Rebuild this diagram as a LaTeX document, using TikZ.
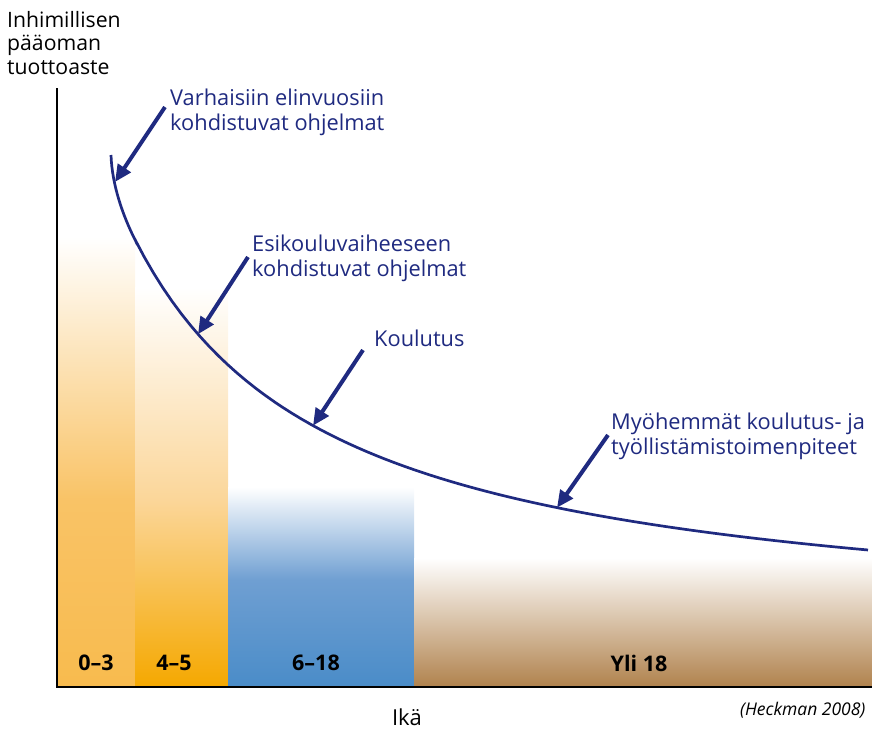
\documentclass[tikz,border=0pt]{standalone}
\usepackage{fontspec}
\setmainfont{Open Sans}
\usepackage{tikz}
\usetikzlibrary{arrows.meta}

\definecolor{curveblue}{RGB}{31,42,128}
\definecolor{orangeL}{RGB}{248,187,78}
\definecolor{orangeM}{RGB}{249,195,102}
\definecolor{orangeP}{RGB}{251,214,153}
\definecolor{orangeD}{RGB}{245,168,0}
\definecolor{schoolblueM}{RGB}{111,159,210}
\definecolor{schoolblue}{RGB}{74,140,200}
\definecolor{adultbrown}{RGB}{176,130,77}

\begin{document}
\begin{tikzpicture}[
    x=1pt, y=-1pt,
    declare function={
      yield(\t) = 634.7-790/(0.01*(\t+65));
    },
    lbl/.style={text=curveblue, font=\fontsize{21.8}{24.5}\selectfont,
      align=left, inner sep=0pt, anchor=north west},
    pointer/.style={curveblue, line width=4pt,
      -{Triangle[length=17pt,width=15pt]}},
    agelbl/.style={font=\fontsize{21.5}{24}\selectfont\bfseries, inner sep=0pt}]

    \useasboundingbox (0, 0) rectangle (872, 732);

    % age bars
    \shade [top color=white, bottom color=orangeM] (57, 237) rectangle (135, 500);
    \shade [top color=orangeM, bottom color=orangeL] (57, 500) rectangle (135, 687);
    \shade [top color=white, bottom color=orangeP] (135, 287) rectangle (228, 500);
    \shade [top color=orangeP, bottom color=orangeD] (135, 500) rectangle (228, 687);
    \shade [top color=white, bottom color=schoolblueM] (228, 487) rectangle (414, 580);
    \shade [top color=schoolblueM, bottom color=schoolblue] (228, 580) rectangle (414, 687);
    \shade [top color=white, bottom color=adultbrown] (414, 558) rectangle (872, 687);

    \node [agelbl] (age03) at (96, 663) {0--3};
    \node [agelbl] (age45) at (174, 663) {4--5};
    \node [agelbl] (age618) at (316, 663) {6--18};
    \node [agelbl] (age18) at (639, 663) {Yli 18};

    % axes
    \coordinate (origin) at (57, 687);
    \coordinate (ytop) at (57, 88);
    \coordinate (xend) at (872, 687);
    \draw [line width=1.5pt] (ytop) -- (origin) -- (xend);

    \node [anchor=north west, align=left, inner sep=0pt,
      font=\fontsize{21.2}{23.5}\selectfont] (ylabel) at (7, 11)
      {Inhimillisen\\pääoman\\tuottoaste};
    \node [anchor=base, inner sep=0pt, font=\fontsize{22}{24}\selectfont]
      (xlabel) at (407, 725) {Ikä};
    \node [anchor=east, font=\fontsize{17.5}{20}\selectfont\itshape]
      (source) at (869, 710) {(Heckman 2008)};

    % return curve
    \draw [curveblue, line width=2.7pt, variable=\t, domain=135:868, samples=80]
    (111, 155) .. controls (112, 185) and (123, 216) .. (135, 239.7)
    -- plot (\t, {yield(\t)});

    % programme labels
    \node [lbl] (early) at (170, 89)
      {Varhaisiin elinvuosiin\\kohdistuvat ohjelmat};
    \node [lbl] (preschool) at (252, 235)
      {Esikouluvaiheeseen\\kohdistuvat ohjelmat};
    \node [lbl] (school) at (374, 330) {Koulutus};
    \node [lbl] (later) at (611, 413)
      {Myöhemmät koulutus- ja\\työllistämistoimenpiteet};

    \coordinate (tip1) at (115, 182);
    \coordinate (tip2) at (198, 334.3);
    \coordinate (tip3) at (313, 425.7);
    \coordinate (tip4) at (557, 507.7);
    \coordinate (tail1) at (165, 107);
    \coordinate (tail2) at (248, 257);
    \coordinate (tail3) at (363, 350);
    \coordinate (tail4) at (608, 435);

    \draw [pointer] (tail1) -- (tip1);
    \draw [pointer] (tail2) -- (tip2);
    \draw [pointer] (tail3) -- (tip3);
    \draw [pointer] (tail4) -- (tip4);

  \end{tikzpicture}
\end{document}
